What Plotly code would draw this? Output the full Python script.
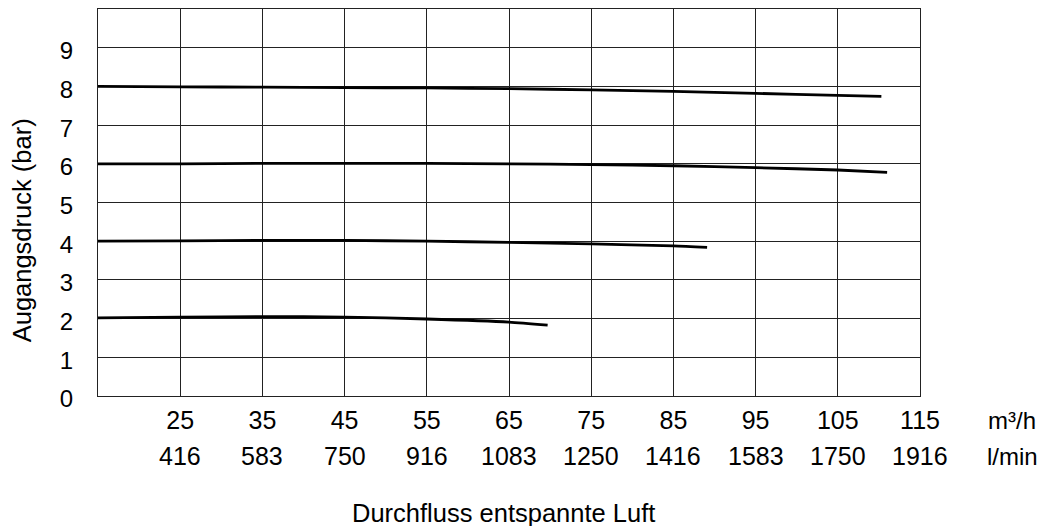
import plotly.graph_objects as go

# Data
flow_m3h_ticks = [25, 35, 45, 55, 65, 75, 85, 95, 105, 115]
flow_lmin_labels = ["416", "583", "750", "916", "1083", "1250", "1416", "1583", "1750", "1916"]
pressure_ticks = [0, 1, 2, 3, 4, 5, 6, 7, 8, 9]

x_8bar = [15, 25, 35, 45, 55, 65, 75, 85, 95, 105, 110.3]
y_8bar = [8.0, 7.99, 7.98, 7.97, 7.96, 7.94, 7.91, 7.87, 7.82, 7.77, 7.74]

x_6bar = [15, 25, 35, 45, 55, 65, 75, 85, 95, 105, 111.0]
y_6bar = [6.0, 6.0, 6.01, 6.01, 6.01, 6.0, 5.98, 5.95, 5.9, 5.84, 5.78]

x_4bar = [15, 25, 35, 45, 55, 65, 75, 85, 89.1]
y_4bar = [4.0, 4.01, 4.02, 4.02, 4.0, 3.97, 3.93, 3.88, 3.84]

x_2bar = [15, 25, 35, 45, 55, 65, 69.7]
y_2bar = [2.02, 2.04, 2.05, 2.04, 1.99, 1.91, 1.83]

FONT = "Liberation Sans, Arial, sans-serif"

fig = go.Figure()
for xs, ys in [(x_8bar, y_8bar), (x_6bar, y_6bar), (x_4bar, y_4bar), (x_2bar, y_2bar)]:
    fig.add_trace(go.Scatter(x=xs, y=ys, mode="lines",
                             line=dict(color="black", width=2.8, shape="spline", smoothing=0.6),
                             showlegend=False, hoverinfo="skip", cliponaxis=False))

fig.update_layout(
    width=1040, height=518,
    margin=dict(l=89.5, r=128, t=0.5, b=129.8),
    paper_bgcolor="white", plot_bgcolor="white",
    font=dict(family=FONT, size=25, color="black"),
)

fig.update_xaxes(
    range=[15, 115], tickvals=flow_m3h_ticks, ticktext=[str(v) for v in flow_m3h_ticks],
    showgrid=True, gridcolor="#222", gridwidth=1,
    showline=True, linecolor="#222", linewidth=1, mirror=True,
    zeroline=False, ticks="", ticklabelstandoff=2,
    tickfont=dict(size=25, family=FONT),
)
fig.update_yaxes(
    range=[0, 10], tickvals=pressure_ticks, ticktext=[str(v) for v in pressure_ticks],
    showgrid=True, gridcolor="#222", gridwidth=1,
    showline=True, linecolor="#222", linewidth=1, mirror=True,
    zeroline=False, ticks="", ticklabelstandoff=19, ticklabelshift=3,
    tickfont=dict(size=24, family=FONT),
)

# y-axis title
fig.add_annotation(x=-0.093, xref="paper", y=0.427, yref="paper", text="Augangsdruck (bar)",
                   textangle=-90, showarrow=False, xanchor="center", yanchor="middle",
                   font=dict(size=25.5, family=FONT))

# second row of x labels (l/min)
for xv, lab in zip(flow_m3h_ticks, flow_lmin_labels):
    fig.add_annotation(x=xv, xref="x", y=-0.1555, yref="paper", text=lab, showarrow=False,
                       xanchor="center", yanchor="middle", font=dict(size=25, family=FONT))

fig.add_annotation(x=1.112, xref="paper", y=-0.0627, yref="paper", text="m³/h", showarrow=False,
                   xanchor="center", yanchor="middle", font=dict(size=24, family=FONT))
fig.add_annotation(x=1.112, xref="paper", y=-0.1555, yref="paper", text="l/min", showarrow=False,
                   xanchor="center", yanchor="middle", font=dict(size=24, family=FONT))

fig.add_annotation(x=0.493, xref="paper", y=-0.3026, yref="paper", text="Durchfluss entspannte Luft",
                   showarrow=False, xanchor="center", yanchor="middle", font=dict(size=25.5, family=FONT))

fig.write_html("out.html")
